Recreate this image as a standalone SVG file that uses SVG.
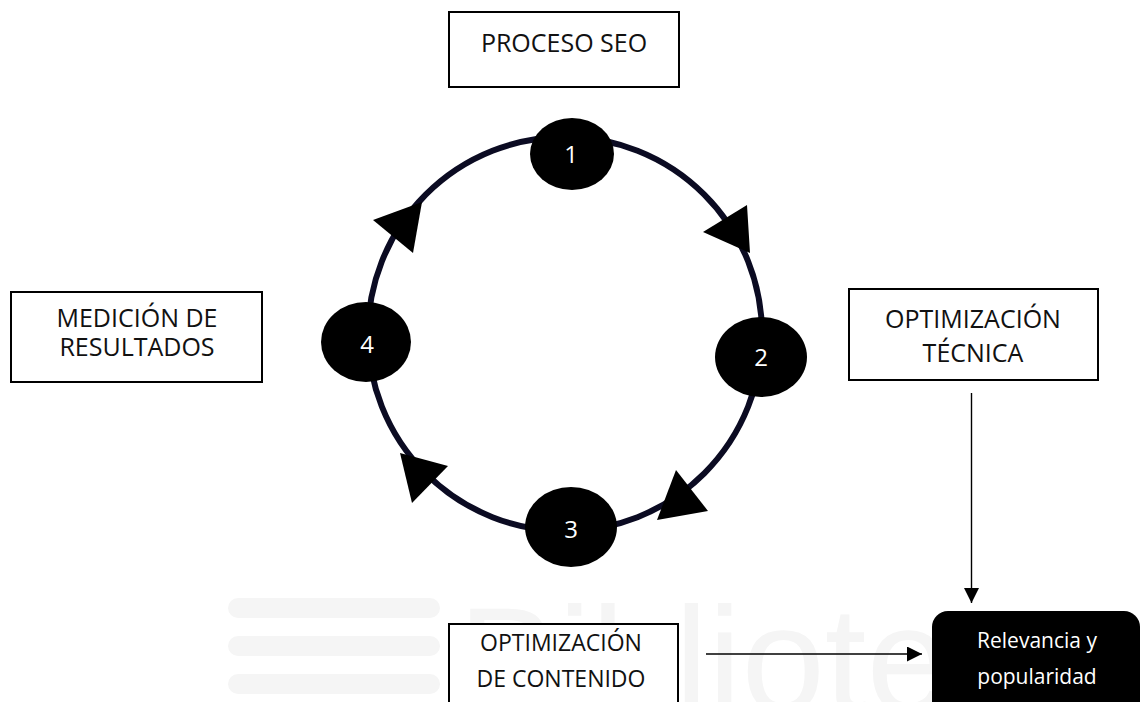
<svg xmlns="http://www.w3.org/2000/svg" width="1141" height="702" viewBox="0 0 1141 702">
  <style>
    .box { fill: #ffffff; stroke: #000000; stroke-width: 2; }
    .lbl { font-family: "Open Sans", "Liberation Sans", Arial, sans-serif; fill: #111111; text-anchor: middle; }
    .wlbl { font-family: "Open Sans", "Liberation Sans", Arial, sans-serif; fill: #ffffff; text-anchor: middle; }
    .num { font-family: "Open Sans", "Liberation Sans", Arial, sans-serif; fill: #ffffff; text-anchor: middle; font-size: 24px; }
    .step { fill: #000000; }
    .head { fill: #000000; }
    .conn { stroke: #000000; stroke-width: 1.4; fill: none; }
    .wm { fill: #f5f5f5; }
  </style>
  <defs>
    <marker id="arr" viewBox="0 0 10 10" refX="10" refY="5" markerWidth="15" markerHeight="15" markerUnits="userSpaceOnUse" orient="auto">
      <path d="M0,0 L10,5 L0,10 z" fill="#000000"/>
    </marker>
  </defs>
  <rect width="1141" height="702" fill="#ffffff"/>

  <g id="watermark">
    <rect class="wm" x="228" y="598" width="212" height="20" rx="10"/>
    <rect class="wm" x="228" y="636" width="212" height="20" rx="10"/>
    <rect class="wm" x="228" y="674" width="212" height="20" rx="10"/>
    <text x="458" y="712" font-family="Liberation Sans, Arial, sans-serif" font-size="150" fill="#f5f5f5">Biblioteca</text>
  </g>

  <g id="cycle">
    <circle cx="565" cy="334" r="197" fill="none" stroke="#0b0b22" stroke-width="6"/>
    <polygon class="head" points="703,232 747,205 750,253"/>
    <polygon class="head" points="676,470 708,511 657,520"/>
    <polygon class="head" points="400,453 448,466 412,503"/>
    <polygon class="head" points="373,220 422,202 413,253"/>
  </g>

  <g id="step1">
    <ellipse class="step" cx="572" cy="154" rx="42" ry="36"/>
    <text class="num" x="571" y="163">1</text>
  </g>
  <g id="step2">
    <ellipse class="step" cx="761" cy="357" rx="46" ry="40"/>
    <text class="num" x="761" y="366">2</text>
  </g>
  <g id="step3">
    <ellipse class="step" cx="571" cy="527" rx="46" ry="40"/>
    <text class="num" x="571" y="538">3</text>
  </g>
  <g id="step4">
    <ellipse class="step" cx="366" cy="342" rx="45" ry="40"/>
    <text class="num" x="367" y="353">4</text>
  </g>

  <g id="proceso-seo">
    <rect class="box" x="449" y="12" width="230" height="75"/>
    <text class="lbl" x="564" y="52" font-size="25">PROCESO SEO</text>
  </g>

  <g id="medicion">
    <rect class="box" x="11" y="292" width="251" height="90"/>
    <text class="lbl" x="137" y="327" font-size="25">MEDICIÓN DE</text>
    <text class="lbl" x="137" y="356" font-size="25">RESULTADOS</text>
  </g>

  <g id="tecnica">
    <rect class="box" x="849" y="289" width="249" height="91"/>
    <text class="lbl" x="973" y="328" font-size="25">OPTIMIZACIÓN</text>
    <text class="lbl" x="973" y="362" font-size="25">TÉCNICA</text>
  </g>

  <g id="contenido">
    <rect class="box" x="449" y="624" width="229" height="100"/>
    <text class="lbl" x="561" y="651" font-size="23">OPTIMIZACIÓN</text>
    <text class="lbl" x="561" y="687" font-size="23">DE CONTENIDO</text>
  </g>

  <g id="relevancia">
    <rect x="932" y="611" width="208" height="120" rx="16" fill="#000000"/>
    <text class="wlbl" x="1037" y="648" font-size="21">Relevancia y</text>
    <text class="wlbl" x="1037" y="684" font-size="21">popularidad</text>
  </g>

  <g id="connectors">
    <line class="conn" x1="971.5" y1="393" x2="971.5" y2="603" marker-end="url(#arr)"/>
    <line class="conn" x1="706" y1="654" x2="922" y2="654" marker-end="url(#arr)"/>
  </g>
</svg>
